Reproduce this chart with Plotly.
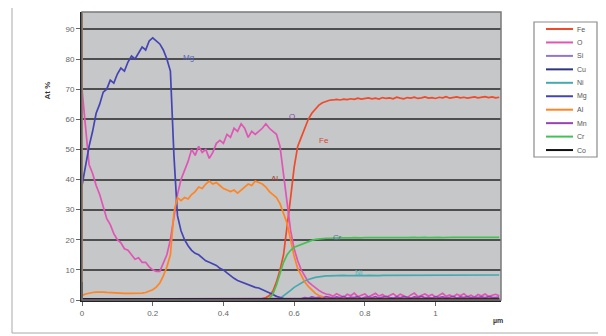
import plotly.graph_objects as go

# depth sampling (µm), 0.00 .. 1.18 step 0.01
depth = [round(i * 0.01, 2) for i in range(119)]

names = ["Fe", "O", "Si", "Cu", "Ni", "Mg", "Al", "Mn", "Cr", "Co"]
colors = ["#f04a2a", "#e055b5", "#9276c8", "#2e3580", "#45a9b0",
          "#4444b4", "#ff8424", "#9444b0", "#45c055", "#111111"]

fe = ([0.2] * 50 +
      [0.3, 0.5, 0.8, 1.5, 3, 6, 10, 15, 24, 34,
       44, 51, 54, 57, 60, 62, 63.5, 64.7, 65.5, 66,
       66.3, 66.4, 66.6, 66.4, 66.7, 66.5, 66.8, 66.6, 67, 66.7,
       66.9, 67.1, 66.8, 67, 66.7, 67.2, 66.9, 67.1, 66.8, 67.3,
       67, 66.8, 67.2, 67, 67.3, 66.9, 67.1, 67.4, 67, 67.2,
       66.9, 67.3, 67.1, 67.5, 67, 67.2, 67.4, 67.1, 67.3, 67,
       67.2, 67.4, 67.1, 67.3, 67.5, 67.2, 67.4, 67.1, 67.3])

o = [70, 57, 45, 42, 38, 35, 31, 27, 25, 22,
     20, 19, 17, 16.5, 15, 13.5, 14, 12.5, 12.5, 11,
     10, 9.5, 9.5, 12, 15, 20, 28, 35, 40, 43,
     46, 50, 48, 51, 49, 50, 47, 49, 52, 53,
     52, 55, 54, 57, 56, 58.5, 57, 54, 56, 55,
     56, 57, 58.5, 57, 56, 55, 51, 42, 33, 23,
     17, 13, 10, 8, 6, 5, 4, 3.2, 2.5, 2,
     1.8, 1.2, 2.1, 1.5, 0.9, 1.9, 1.4, 2.3, 1.1, 1.6,
     2.0, 1.0, 1.7, 2.2, 1.3, 1.8, 0.9, 1.5, 2.1, 1.2,
     1.9, 1.4, 0.8, 1.7, 2.3, 1.1, 1.6, 2.0, 1.3, 1.8,
     0.9, 1.5, 2.2, 1.2, 1.7, 1.0, 1.9, 1.4, 2.1, 1.1,
     1.6, 0.9, 1.8, 1.3, 2.0, 1.2, 1.5, 1.9, 1.4]

si = [0.2] * 119

cu = [0.4] * 119

ni = ([0.0] * 56 +
      [0.5, 1.3, 2.2, 3.2, 4.2, 5, 5.7, 6.3, 6.8, 7.2, 7.5, 7.7, 7.9, 8] +
      [8, 8.1, 8, 8.1, 8.2, 8.1, 8, 8.1, 8.2, 8.1,
       8.1, 8.2, 8.1, 8, 8.1, 8.2, 8.2, 8.1, 8.2, 8.1,
       8.2, 8.1, 8.2, 8.3, 8.2, 8.1, 8.2, 8.3, 8.2, 8.2,
       8.3, 8.2, 8.3, 8.2, 8.3, 8.2, 8.3, 8.3, 8.2, 8.3,
       8.2, 8.3, 8.3, 8.2, 8.3, 8.3, 8.2, 8.3, 8.3])

mg = ([38, 45, 51, 56, 62, 65, 69, 70, 73, 72,
       75, 77, 76, 79, 81, 80, 82, 84, 83, 86,
       87, 86, 85, 83, 80, 76, 48, 28, 23, 20,
       18, 16.5, 15.5, 15, 14, 13, 12.5, 12, 11.5, 10.5,
       10, 9, 8, 7.2, 6.5, 6, 5.5, 5, 4.6, 4.2,
       4, 3.5, 3, 2.5, 1.8, 1.2, 0.8, 0.5, 0.4, 0.3] +
      [0.3] * 59)

al_spike = 95
al = ([1.5, 2, 2.3, 2.5, 2.6, 2.7, 2.6, 2.5, 2.4, 2.4,
       2.3, 2.3, 2.2, 2.2, 2.2, 2.2, 2.2, 2.3, 2.5, 2.9,
       3.4, 4.3, 5.6, 8, 11, 15, 29, 34, 33, 34,
       33.5, 35, 36, 37.5, 37, 38.5, 39.5, 38.5, 39, 38,
       37, 36.5, 36, 36.5, 35.5, 36.5, 37.5, 38.5, 38, 39.5,
       39, 38.5, 37.5, 36, 35, 34, 32, 29, 25.5, 20,
       14.5, 10.5, 8, 6, 4.5, 3.2, 2.2, 1.5, 1, 0.7] +
      [0.5] * 49)

mn = ([0.3] * 62 +
      [0.5, 0.8, 0.6, 1.0, 0.7, 0.9, 0.5, 1.1, 0.8, 0.6,
       1.0, 0.7, 1.2, 0.6, 0.9, 0.8, 1.1, 0.5, 0.9, 1.0,
       0.7, 1.1, 0.6, 0.9, 1.2, 0.8, 0.6, 1.0, 0.7, 1.1,
       0.9, 0.6, 1.0, 0.8, 1.2, 0.7, 0.9, 0.6, 1.1, 0.8,
       1.0, 0.7, 0.9, 1.2, 0.6, 1.0, 0.8, 1.1, 0.7, 0.9,
       0.8, 1.0, 0.7, 1.1, 0.9, 0.8, 1.0])

cr = ([0.0] * 53 +
      [0.5, 2, 5, 9, 12.5, 15, 16.5,
       17.5, 18, 18.5, 19, 19.5, 19.8, 20.1, 20.3, 20.5, 20.5] +
      [20.5, 20.6, 20.5, 20.6, 20.6, 20.5, 20.6, 20.7, 20.6, 20.6,
       20.7, 20.6, 20.7, 20.7, 20.6, 20.7, 20.7, 20.8, 20.7, 20.7,
       20.8, 20.7, 20.7, 20.8, 20.8, 20.7, 20.8, 20.8, 20.7, 20.8,
       20.8, 20.8, 20.7, 20.8, 20.8, 20.8, 20.8, 20.7, 20.8, 20.8,
       20.8, 20.8, 20.8, 20.8, 20.8, 20.8, 20.8, 20.8, 20.8])

co_spike = 6
co = [0.3] * 119

series = [fe, o, si, cu, ni, mg, al, mn, cr, co]
for s in series:
    assert len(s) == len(depth), len(s)

# in-plot element labels (name, x µm, y At%, colour)
lab_names = ["Mg", "O", "Fe", "Al", "Cr", "Ni"]
lab_x = [0.30, 0.594, 0.685, 0.545, 0.722, 0.782]
lab_y = [80.5, 60.8, 52.8, 40.3, 20.9, 9.0]
lab_colors = ["#5a66b8", "#8a4aa8", "#d8452e", "#a04030", "#5a6aa0", "#55b5b5"]

fig = go.Figure()
for name, col, vals in zip(names, colors, series):
    xs, ys = depth, vals
    if name == "Al":
        xs, ys = [0.0] + depth, [al_spike] + vals
    if name == "Co":
        xs, ys = [0.0] + depth, [co_spike] + vals
    fig.add_trace(go.Scatter(x=xs, y=ys, mode="lines", name=name,
                             line=dict(color=col, width=1.7),
                             showlegend=False, hoverinfo="skip"))

# page has an 8px body margin; target pixel coords are given in window space
OFF = 8
W, H = 606 - OFF, 336 - OFF
L, R, T, B = 82 - OFF, 501 - OFF, 12 - OFF, 300 - OFF
def px(xp):
    return (xp - OFF - L) / (R - L)
def py(yp):
    return (B - (yp - OFF)) / (B - T)

shapes = []
annotations = []
# outer frame
shapes.append(dict(type="rect", xref="paper", yref="paper",
                   x0=px(12), x1=px(601), y0=py(333), y1=py(4),
                   line=dict(color="#a8a8a8", width=1), layer="below"))
# plot frame
shapes.append(dict(type="rect", xref="paper", yref="paper",
                   x0=0, x1=1, y0=0, y1=1,
                   line=dict(color="#7a7a7a", width=1.5)))
# legend box
shapes.append(dict(type="rect", xref="paper", yref="paper",
                   x0=px(534), x1=px(597), y0=py(157), y1=py(22),
                   line=dict(color="#8a8a8a", width=1.2), fillcolor="white"))
for i, (name, col) in enumerate(zip(names, colors)):
    yy = py(29 + 13.45 * i)
    shapes.append(dict(type="line", xref="paper", yref="paper",
                       x0=px(546), x1=px(573), y0=yy, y1=yy,
                       line=dict(color=col, width=2)))
    annotations.append(dict(xref="paper", yref="paper", x=px(575), y=yy,
                            text=name, showarrow=False, xanchor="left",
                            yanchor="middle",
                            font=dict(size=7, color="#555555", family="Arial")))

for t, xx, yy, c in zip(lab_names, lab_x, lab_y, lab_colors):
    annotations.append(dict(x=xx, y=yy, xref="x", yref="y", text=t,
                            showarrow=False,
                            font=dict(size=8, color=c, family="Arial")))

annotations.append(dict(xref="paper", yref="paper", x=px(40), y=py(80),
                        text="<b>At %</b>", textangle=-90, showarrow=False,
                        font=dict(size=8, color="#333333", family="Arial")))
annotations.append(dict(xref="paper", yref="paper", x=px(505), y=py(327),
                        text="<b>µm</b>", showarrow=False,
                        font=dict(size=7, color="#333333", family="Arial")))

fig.update_layout(
    width=W, height=H,
    margin=dict(l=L, r=W - R, t=T, b=H - B, pad=0),
    paper_bgcolor="white",
    plot_bgcolor="#c6c7c9",
    shapes=shapes,
    annotations=annotations,
    showlegend=False,
    font=dict(family="Arial", size=8, color="#555555"),
)
fig.update_xaxes(range=[0, 1.185], tickvals=[0, 0.2, 0.4, 0.6, 0.8, 1],
                 ticktext=["0", "0.2", "0.4", "0.6", "0.8", "1"],
                 showgrid=False, zeroline=False, showline=True,
                 linecolor="#222222", linewidth=2, ticks="outside",
                 ticklen=4, tickcolor="#666666", tickfont=dict(size=8, color="#666666"))
fig.update_yaxes(range=[0, 95.6], tickvals=[0, 10, 20, 30, 40, 50, 60, 70, 80, 90],
                 showgrid=True, gridcolor="#4e4e4e", gridwidth=1.6,
                 zeroline=False, showline=True, linecolor="#222222", linewidth=2,
                 ticks="outside", ticklen=4, tickcolor="#666666",
                 tickfont=dict(size=8, color="#666666"))

fig.write_html("out.html")
